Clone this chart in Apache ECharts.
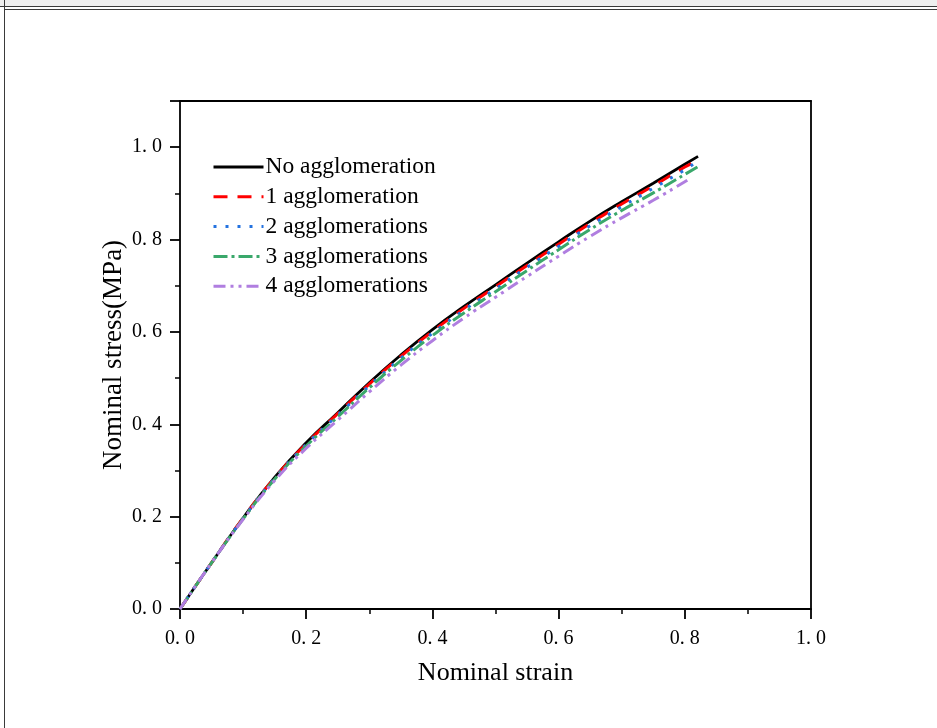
<!DOCTYPE html>
<html>
<head>
<meta charset="utf-8">
<script src="https://cdn.jsdelivr.net/npm/echarts@6/dist/echarts.min.js"></script>
<style>
html,body{margin:0;padding:0;background:#fff;}
#chart{width:937px;height:728px;}
</style>
</head>
<body>
<div id="chart"></div>
<script>
// Shared strain samples
var strain = [0, 0.05, 0.10, 0.15, 0.20, 0.25, 0.30, 0.35, 0.40, 0.45, 0.50, 0.55, 0.60, 0.65, 0.70, 0.75, 0.80];

var seriesNames = ['No agglomeration', '1 agglomeration', '2 agglomerations', '3 agglomerations', '4 agglomerations'];

var stressNone  = [0, 0.100, 0.197, 0.285, 0.360, 0.425, 0.490, 0.550, 0.605, 0.655, 0.702, 0.749, 0.795, 0.840, 0.882, 0.922, 0.963];
var stressOne   = [0, 0.100, 0.197, 0.284, 0.358, 0.423, 0.487, 0.547, 0.601, 0.651, 0.698, 0.744, 0.790, 0.835, 0.877, 0.916, 0.957];
var stressTwo   = [0, 0.100, 0.196, 0.283, 0.356, 0.420, 0.483, 0.543, 0.597, 0.647, 0.693, 0.740, 0.785, 0.830, 0.871, 0.911, 0.951];
var stressThree = [0, 0.100, 0.195, 0.281, 0.353, 0.416, 0.479, 0.538, 0.592, 0.641, 0.687, 0.733, 0.778, 0.822, 0.863, 0.901, 0.941];
var stressFour  = [0, 0.100, 0.194, 0.278, 0.348, 0.409, 0.470, 0.528, 0.581, 0.630, 0.675, 0.720, 0.764, 0.807, 0.847, 0.885, 0.925];

// Final points of each curve [strain, stress]
var endPoints = [[0.821, 0.980], [0.818, 0.969], [0.813, 0.963], [0.820, 0.957], [0.807, 0.931]];

var xTicks = [0, 0.2, 0.4, 0.6, 0.8, 1.0];
var yTicks = [0, 0.2, 0.4, 0.6, 0.8, 1.0];

var colors = ['#000000', '#ff0000', '#2473e0', '#3aa86b', '#b07ee0'];
var dashes = ['solid', [14, 10], [3, 9], [14, 4, 3, 4], [12, 5, 3, 5, 3, 5]];
var widths = [2.8, 3, 3, 3, 3];
var allStress = [stressNone, stressOne, stressTwo, stressThree, stressFour];

function pairs(ys, end) {
  var out = strain.map(function (x, i) { return [x, ys[i]]; });
  out.push(end);
  return out;
}
function fmt(v) {
  var s = v.toFixed(1);
  return s.replace('.', '. ');
}
function isTick(list, v) {
  for (var i = 0; i < list.length; i++) if (Math.abs(list[i] - v) < 1e-6) return true;
  return false;
}

var serif = 'Liberation Serif';
var chart = echarts.init(document.getElementById('chart'), null, {renderer: 'canvas'});

var series = seriesNames.map(function (n, i) {
  return {
    name: n,
    type: 'line',
    data: pairs(allStress[i], endPoints[i]),
    symbol: 'none',
    smooth: true,
    color: colors[i],
    lineStyle: {color: colors[i], width: widths[i], type: dashes[i]},
    xAxisIndex: 0,
    yAxisIndex: 0
  };
});

chart.setOption({
  animation: false,
  backgroundColor: '#ffffff',
  graphic: [
    {type: 'rect', shape: {x: 0, y: 0, width: 937, height: 6}, style: {fill: '#efefef'}, silent: true},
    {type: 'line', shape: {x1: 0, y1: 6.5, x2: 937, y2: 6.5}, style: {stroke: '#3a3a3a', lineWidth: 1.2}},
    {type: 'line', shape: {x1: 4, y1: 9.5, x2: 937, y2: 9.5}, style: {stroke: '#3a3a3a', lineWidth: 1.2}},
    {type: 'line', shape: {x1: 4.5, y1: 0, x2: 4.5, y2: 728}, style: {stroke: '#3a3a3a', lineWidth: 1}}
  ],
  grid: {left: 180, top: 101, right: 126, bottom: 119, containLabel: false},
  legend: {
    orient: 'vertical',
    left: 207,
    top: 150,
    itemWidth: 50,
    itemHeight: 14,
    itemGap: 5.8,
    itemStyle: {opacity: 0},
    lineStyle: {width: 3},
    textStyle: {fontFamily: serif, fontSize: 23.5, color: '#000', padding: [0, 0, 0, -3]},
    data: seriesNames
  },
  xAxis: [{
    type: 'value', min: 0, max: 1, interval: 0.2,
    name: 'Nominal strain', nameLocation: 'middle', nameGap: 51,
    nameTextStyle: {fontFamily: serif, fontSize: 26, color: '#000'},
    axisLine: {show: true, onZero: false, lineStyle: {color: '#000', width: 1.8}},
    axisTick: {show: true, inside: false, length: 10, lineStyle: {color: '#000', width: 1.8}},
    minorTick: {show: true, splitNumber: 2, length: 5, lineStyle: {color: '#000', width: 1.5}},
    axisLabel: {fontFamily: serif, fontSize: 20, color: '#000', margin: 20,
      formatter: function (v) { return isTick(xTicks, v) ? fmt(v) : ''; }},
    splitLine: {show: false}
  }, {
    type: 'value', min: 0, max: 1, position: 'top',
    axisLine: {show: true, onZero: false, lineStyle: {color: '#000', width: 1.8}},
    axisTick: {show: false}, axisLabel: {show: false}, splitLine: {show: false}
  }],
  yAxis: [{
    type: 'value', min: 0, max: 1.1, interval: 0.2,
    name: 'Nominal stress(MPa)', nameLocation: 'middle', nameGap: 53, nameRotate: 90,
    nameMoveOverlap: false,
    nameTextStyle: {fontFamily: serif, fontSize: 27, color: '#000'},
    axisLine: {show: true, onZero: false, lineStyle: {color: '#000', width: 1.8}},
    axisTick: {show: true, inside: false, length: 10, lineStyle: {color: '#000', width: 1.8}},
    minorTick: {show: true, splitNumber: 2, length: 5, lineStyle: {color: '#000', width: 1.5}},
    axisLabel: {fontFamily: serif, fontSize: 20, color: '#000', margin: 18, showMaxLabel: false,
      formatter: function (v) { return isTick(yTicks, v) ? fmt(v) : ''; }},
    splitLine: {show: false}
  }, {
    type: 'value', min: 0, max: 1.1, position: 'right',
    axisLine: {show: true, onZero: false, lineStyle: {color: '#000', width: 1.8}},
    axisTick: {show: false}, axisLabel: {show: false}, splitLine: {show: false}
  }],
  series: series
});
</script>
</body>
</html>
